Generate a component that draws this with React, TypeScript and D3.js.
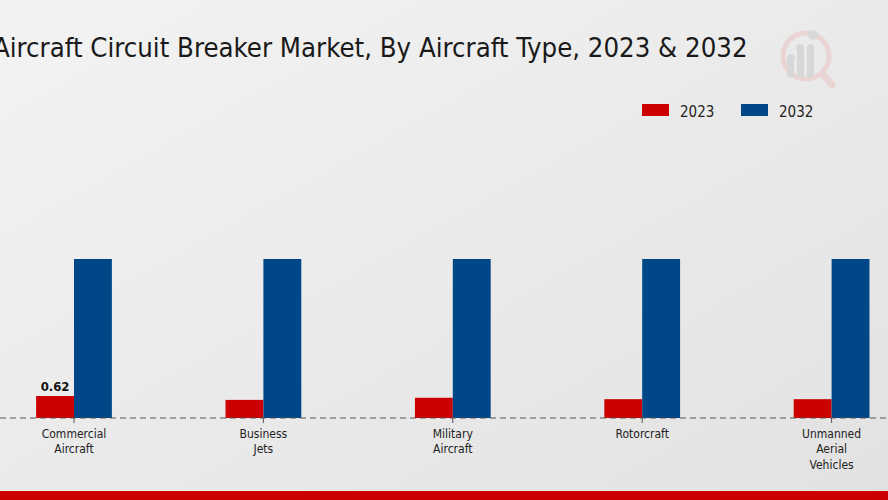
import React from "react";
import * as d3 from "d3";

const categories = ["Commercial\nAircraft", "Business\nJets", "Military\nAircraft", "Rotorcraft", "Unmanned\nAerial\nVehicles"];
const seriesNames = ["2023", "2032"];
const values2023 = [0.62, 0.51, 0.57, 0.53, 0.53];
const values2032 = [4.48, 4.48, 4.48, 4.48, 4.48];
const colors = ["#cc0000", "#004788"];

const W = 888;
const H = 500;
const baseY = 418;

export default function App() {
  const x0 = d3.scaleBand<string>().domain(categories).range([-20.7, 926.3]).paddingInner(0.6).paddingOuter(0.3);
  const x1 = d3.scaleBand<string>().domain(seriesNames).range([0, x0.bandwidth()]).padding(0);
  const y = d3.scaleLinear().domain([0, 4.48]).range([baseY, 259]);
  const series = [values2023, values2032];
  const font = "'DejaVu Sans Condensed', 'DejaVu Sans', sans-serif";

  return (
    <div style={{ position: "fixed", left: 0, top: 0, width: W, height: H }}>
      <svg width={W} height={H} style={{ display: "block" }}>
        <defs>
          <linearGradient id="bg" x1="0" y1="0" x2="1" y2="1">
            <stop offset="0%" stopColor="#f3f3f3" />
            <stop offset="100%" stopColor="#e2e2e2" />
          </linearGradient>
        </defs>
        <rect x={0} y={0} width={W} height={H} fill="url(#bg)" />
        {/* watermark logo */}
        <g opacity={0.9}>
          <circle cx={806} cy={56} r={23} fill="none" stroke="#ecd2d2" strokeWidth={5} />
          <line x1={822} y1={73} x2={832} y2={85} stroke="#ecd2d2" strokeWidth={7} strokeLinecap="round" />
          <rect x={787} y={58} width={7} height={20} rx={3.5} fill="#d6d6d6" />
          <rect x={797} y={48} width={7} height={30} rx={3.5} fill="#d6d6d6" />
          <rect x={807} y={44} width={7} height={34} rx={3.5} fill="#d6d6d6" />
          <circle cx={791} cy={58} r={4} fill="#d6d6d6" />
          <circle cx={800} cy={48} r={4} fill="#d6d6d6" />
          <circle cx={813} cy={35} r={5} fill="#d6d6d6" />
        </g>
        <text x={-7} y={57} fontFamily={font} fontSize={27.3} fill="#1a1a1a">
          Aircraft Circuit Breaker Market, By Aircraft Type, 2023 &amp; 2032
        </text>
        {/* legend */}
        {seriesNames.map((s, i) => (
          <g key={s} transform={`translate(${642 + i * 99},104)`}>
            <rect width={27} height={12} fill={colors[i]} />
            <text x={38} y={12.5} fontFamily={font} fontSize={15} fill="#222">{s}</text>
          </g>
        ))}
        {/* bars */}
        {categories.map((c, ci) => (
          <g key={c} transform={`translate(${x0(c)},0)`}>
            {seriesNames.map((s, si) => {
              const v = series[si][ci];
              return <rect key={s} x={x1(s)} y={y(v)} width={x1.bandwidth()} height={baseY - y(v)} fill={colors[si]} />;
            })}
          </g>
        ))}
        <text x={(x0(categories[0]) as number) + x1.bandwidth() / 2} y={391} textAnchor="middle" fontFamily={font} fontWeight="bold" fontSize={13} fill="#111">
          {values2023[0]}
        </text>
        <line x1={0} x2={W} y1={baseY} y2={baseY} stroke="#555" strokeDasharray="6,4" strokeWidth={1} />
        {categories.map((c) => {
          const cx = (x0(c) as number) + x0.bandwidth() / 2;
          return (
            <g key={c}>
              <line x1={cx} x2={cx} y1={baseY} y2={baseY + 5} stroke="#555" />
              {c.split("\n").map((ln, li) => (
                <text key={li} x={cx} y={437.5 + li * 15.5} textAnchor="middle" fontFamily={font} fontSize={12} fill="#222">{ln}</text>
              ))}
            </g>
          );
        })}
        <rect x={0} y={491} width={W} height={9} fill="#cc0000" />
      </svg>
    </div>
  );
}
